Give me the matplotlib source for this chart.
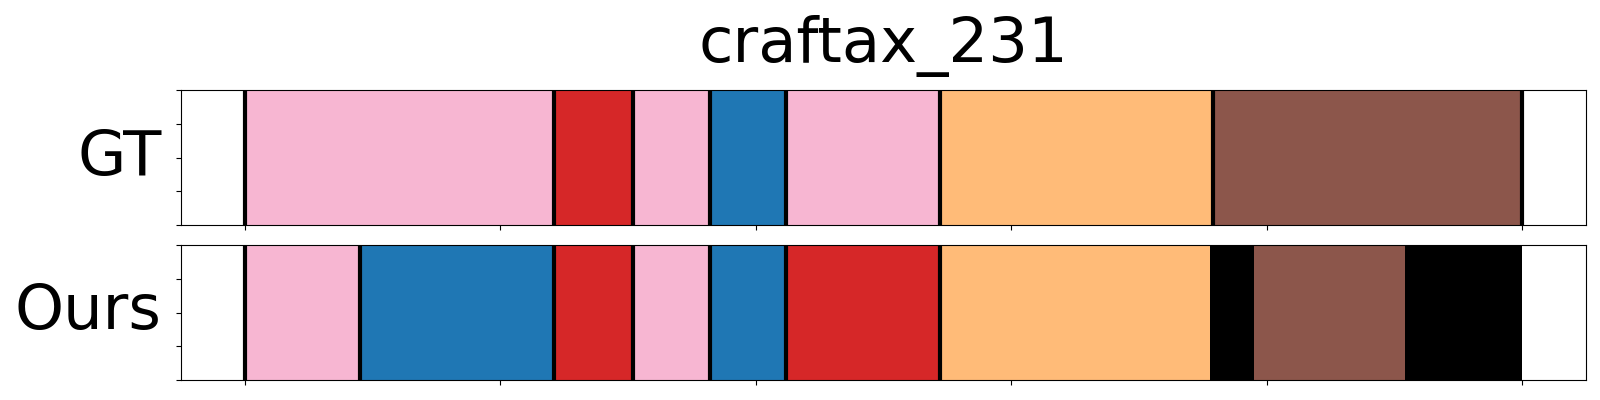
import matplotlib
matplotlib.use("Agg")
import matplotlib.pyplot as plt

# segment data (frame index start/end + action colour)
title = "craftax_231"
row_labels = ["GT", "Ours"]

gt_starts = [0, 121, 152, 182, 212, 272, 379]
gt_ends = [121, 152, 182, 212, 272, 379, 500]
gt_colors = ["#f7b6d2", "#d62728", "#f7b6d2", "#1f77b4", "#f7b6d2", "#ffbb78", "#8c564b"]

ours_starts = [0, 45, 121, 152, 182, 212, 272, 378, 395, 454]
ours_ends = [45, 121, 152, 182, 212, 272, 378, 395, 454, 500]
ours_colors = ["#f7b6d2", "#1f77b4", "#d62728", "#f7b6d2", "#1f77b4", "#d62728",
               "#ffbb78", "#000000", "#8c564b", "#000000"]

n_frames = 500


def draw_row(ax, starts, ends, colors, label):
    for s, e, c in zip(starts, ends, colors):
        ax.broken_barh([(s, e - s)], (0, 1), facecolors=c)
    # boundary lines, skipped next to black (background) segments
    bounds = {}
    for s, e, c in zip(starts, ends, colors):
        for b in (s, e):
            bounds.setdefault(b, []).append(c)
    for b, cs in sorted(bounds.items()):
        if "#000000" in cs:
            continue
        ax.axvline(b, color="black", linewidth=3, zorder=3)
    ax.set_xlim(-0.05 * n_frames, 1.05 * n_frames)
    ax.set_ylim(0, 1)
    ax.set_xticks(range(0, n_frames + 1, 100))
    ax.set_yticks([0, 0.25, 0.5, 0.75, 1.0])
    ax.set_xticklabels([])
    ax.set_yticklabels([])
    ax.set_ylabel(label, rotation=0, fontsize=45, ha="right", va="center", labelpad=7)


fig = plt.figure(figsize=(16, 4), dpi=100)
ax1 = fig.add_axes([0.1131, 0.4375, 0.8781, 0.3375])
ax2 = fig.add_axes([0.1131, 0.05, 0.8781, 0.3375])

draw_row(ax1, gt_starts, gt_ends, gt_colors, row_labels[0])
draw_row(ax2, ours_starts, ours_ends, ours_colors, row_labels[1])
ax1.set_title(title, fontsize=45, pad=20)

fig.savefig("out.png", dpi=100)
